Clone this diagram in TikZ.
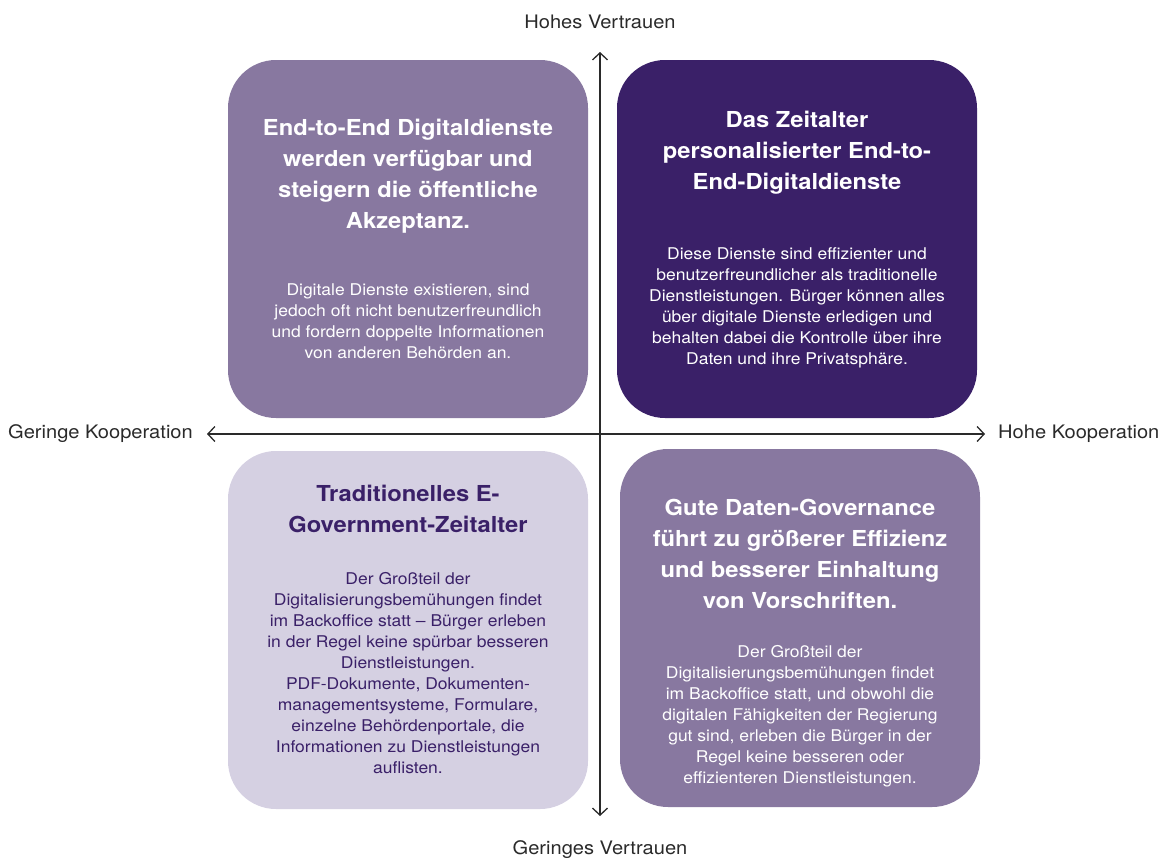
\documentclass[tikz,border=0pt]{standalone}
\usepackage{fontspec}
\setmainfont[FakeStretch=1.08]{TeX Gyre Heros}
\usetikzlibrary{arrows.meta,positioning}
\definecolor{mittellila}{HTML}{8878A0}
\definecolor{dunkellila}{HTML}{3A2068}
\definecolor{helllila}{HTML}{D5D0E2}
\definecolor{achsgrau}{HTML}{2A2A2A}

\begin{document}
\begin{tikzpicture}[x=1pt,y=-1pt,
feld/.style={rounded corners=48pt,minimum width=360pt,minimum height=358pt,inner sep=0pt},
titel/.style={font=\fontsize{22}{31}\selectfont\bfseries,align=center,anchor=north,inner sep=0pt,text=white},
fliess/.style={font=\fontsize{16.2}{21}\selectfont,align=center,anchor=north,inner sep=0pt,text=white},
achse/.style={draw=achsgrau,line width=1.3pt,{Straight Barb[length=7pt,width=15pt]}-{Straight Barb[length=7pt,width=15pt]}},
pol/.style={font=\fontsize{18.6}{20}\selectfont,text=achsgrau,inner sep=0pt}]
\useasboundingbox (0,0) rectangle (1162,860);

% die vier Felder
\node[feld,fill=mittellila] (ol) at (408,239) {};
\node[feld,fill=dunkellila] (or) at (797,239) {};
\node[feld,fill=helllila] (ul) at (408,630) {};
\node[feld,fill=mittellila] (ur) at (800,628) {};

% Achsen
\coordinate (oben) at (600,52);
\coordinate (unten) at (600,816);
\coordinate (links) at (207,434);
\coordinate (rechts) at (985,434);
\draw[achse] (unten) -- (oben);
\draw[achse] (links) -- (rechts);

\node[pol] (hv) at (600,22) {Hohes Vertrauen};
\node[pol] (gv) at (600,850) {Geringes Vertrauen};
\node[pol,anchor=east] (gk) at (193,434) {Geringe Kooperation};
\node[pol,anchor=west] (hk) at (998,434) {Hohe Kooperation};

% Texte oben links
\node[titel] (ol-t) at (408,119) {End-to-End Digitaldienste\\werden verfügbar und\\steigern die öffentliche\\Akzeptanz.};
\node[fliess] (ol-b) at (408,283) {Digitale Dienste existieren, sind\\jedoch oft nicht benutzerfreundlich\\und fordern doppelte Informationen\\von anderen Behörden an.};

% Texte oben rechts
\node[titel] (or-t) at (797,111) {Das Zeitalter\\personalisierter End-to-\\End-Digitaldienste};
\node[fliess] (or-b) at (797,247) {Diese Dienste sind effizienter und\\benutzerfreundlicher als traditionelle\\Dienstleistungen. Bürger können alles\\über digitale Dienste erledigen und\\behalten dabei die Kontrolle über ihre\\Daten und ihre Privatsphäre.};

% Texte unten links
\node[titel,text=dunkellila] (ul-t) at (408,485) {Traditionelles E-\\Government-Zeitalter};
\node[fliess,text=dunkellila] (ul-b) at (408,572) {Der Großteil der\\Digitalisierungsbemühungen findet\\im Backoffice statt – Bürger erleben\\in der Regel keine spürbar besseren\\Dienstleistungen.\\PDF-Dokumente, Dokumenten-\\managementsysteme, Formulare,\\einzelne Behördenportale, die\\Informationen zu Dienstleistungen\\auflisten.};

% Texte unten rechts
\node[titel] (ur-t) at (800,499) {Gute Daten-Governance\\führt zu größerer Effizienz\\und besserer Einhaltung\\von Vorschriften.};
\node[fliess] (ur-b) at (800,645) {Der Großteil der\\Digitalisierungsbemühungen findet\\im Backoffice statt, und obwohl die\\digitalen Fähigkeiten der Regierung\\gut sind, erleben die Bürger in der\\Regel keine besseren oder\\effizienteren Dienstleistungen.};
\end{tikzpicture}
\end{document}
